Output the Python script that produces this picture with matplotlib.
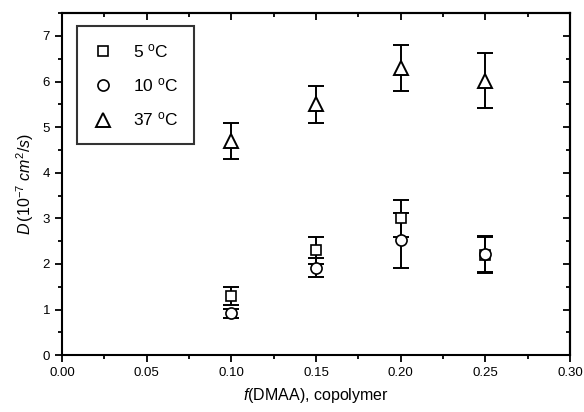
import matplotlib
matplotlib.use("Agg")
import matplotlib.pyplot as plt
from matplotlib.ticker import MultipleLocator

plt.rcParams['font.family'] = ['Liberation Sans', 'DejaVu Sans']
plt.rcParams['mathtext.fontset'] = 'custom'
plt.rcParams['mathtext.rm'] = 'Liberation Sans'
plt.rcParams['mathtext.it'] = 'Liberation Sans:italic'

f_dmaa = [0.10, 0.15, 0.20, 0.25]
d_5 = [1.30, 2.30, 3.00, 2.20]
err_5 = [0.20, 0.30, 0.40, 0.40]
d_10 = [0.92, 1.92, 2.52, 2.22]
err_10 = [0.10, 0.20, 0.60, 0.40]
d_37 = [4.70, 5.50, 6.30, 6.02]
err_37 = [0.40, 0.40, 0.50, 0.60]

labels = [r'5 $^{\mathrm{o}}$C', r'10 $^{\mathrm{o}}$C', r'37 $^{\mathrm{o}}$C']

fig = plt.figure(figsize=(5.84, 4.12), dpi=100)
ax = fig.add_axes([0.106, 0.138, 0.870, 0.830])

common = dict(fmt='none', ecolor='black', elinewidth=1.4, capsize=5.5, capthick=1.4, zorder=2)
ax.errorbar(f_dmaa, d_5, yerr=err_5, **common)
ax.errorbar(f_dmaa, d_10, yerr=err_10, **common)
ax.errorbar(f_dmaa, d_37, yerr=err_37, **common)

ax.plot(f_dmaa, d_5, linestyle='none', marker='s', markersize=7.5, markerfacecolor='white',
        markeredgecolor='black', markeredgewidth=1.2, label=labels[0], zorder=3)
ax.plot(f_dmaa, d_10, linestyle='none', marker='o', markersize=8, markerfacecolor='white',
        markeredgecolor='black', markeredgewidth=1.2, label=labels[1], zorder=3)
ax.plot(f_dmaa, d_37, linestyle='none', marker='^', markersize=9.5, markerfacecolor='white',
        markeredgecolor='black', markeredgewidth=1.4, label=labels[2], zorder=3)

ax.set_xlim(0, 0.30)
ax.set_ylim(0, 7.5)
ax.xaxis.set_major_locator(MultipleLocator(0.05))
ax.xaxis.set_minor_locator(MultipleLocator(0.025))
ax.yaxis.set_major_locator(MultipleLocator(1))
ax.yaxis.set_minor_locator(MultipleLocator(0.5))
ax.xaxis.set_major_formatter(matplotlib.ticker.FormatStrFormatter('%.2f'))

for s in ax.spines.values():
    s.set_linewidth(1.5)

ax.tick_params(which='major', direction='out', length=5, width=1.3, labelsize=9.5)
ax.tick_params(which='minor', direction='out', length=3, width=1.3)

top = ax.secondary_xaxis('top')
top.xaxis.set_major_locator(MultipleLocator(0.05))
top.xaxis.set_minor_locator(MultipleLocator(0.025))
top.tick_params(which='major', direction='in', length=5, width=1.3, labeltop=False)
top.tick_params(which='minor', direction='in', length=3, width=1.3)
top.spines['top'].set_linewidth(1.5)
right = ax.secondary_yaxis('right')
right.yaxis.set_major_locator(MultipleLocator(1))
right.yaxis.set_minor_locator(MultipleLocator(0.5))
right.tick_params(which='major', direction='in', length=5, width=1.3, labelright=False)
right.tick_params(which='minor', direction='in', length=3, width=1.3)
right.spines['right'].set_linewidth(1.5)

ax.set_xlabel(r'$\mathit{f}$(DMAA), copolymer', fontsize=11.5, labelpad=5)
ax.set_ylabel(r'$\mathit{D}\,$(10$^{-7}$ $\mathit{cm}^{2}\mathit{/s}$)', fontsize=11.5, labelpad=5)

leg = ax.legend(loc='upper left', bbox_to_anchor=(0.03, 0.962), borderaxespad=0,
                fontsize=12.5, frameon=True,
                fancybox=False, edgecolor='black', handlelength=1.2, handletextpad=1.1,
                labelspacing=0.95, borderpad=0.9, numpoints=1)
leg.get_frame().set_linewidth(1.5)

fig.savefig('out.png', dpi=100)
